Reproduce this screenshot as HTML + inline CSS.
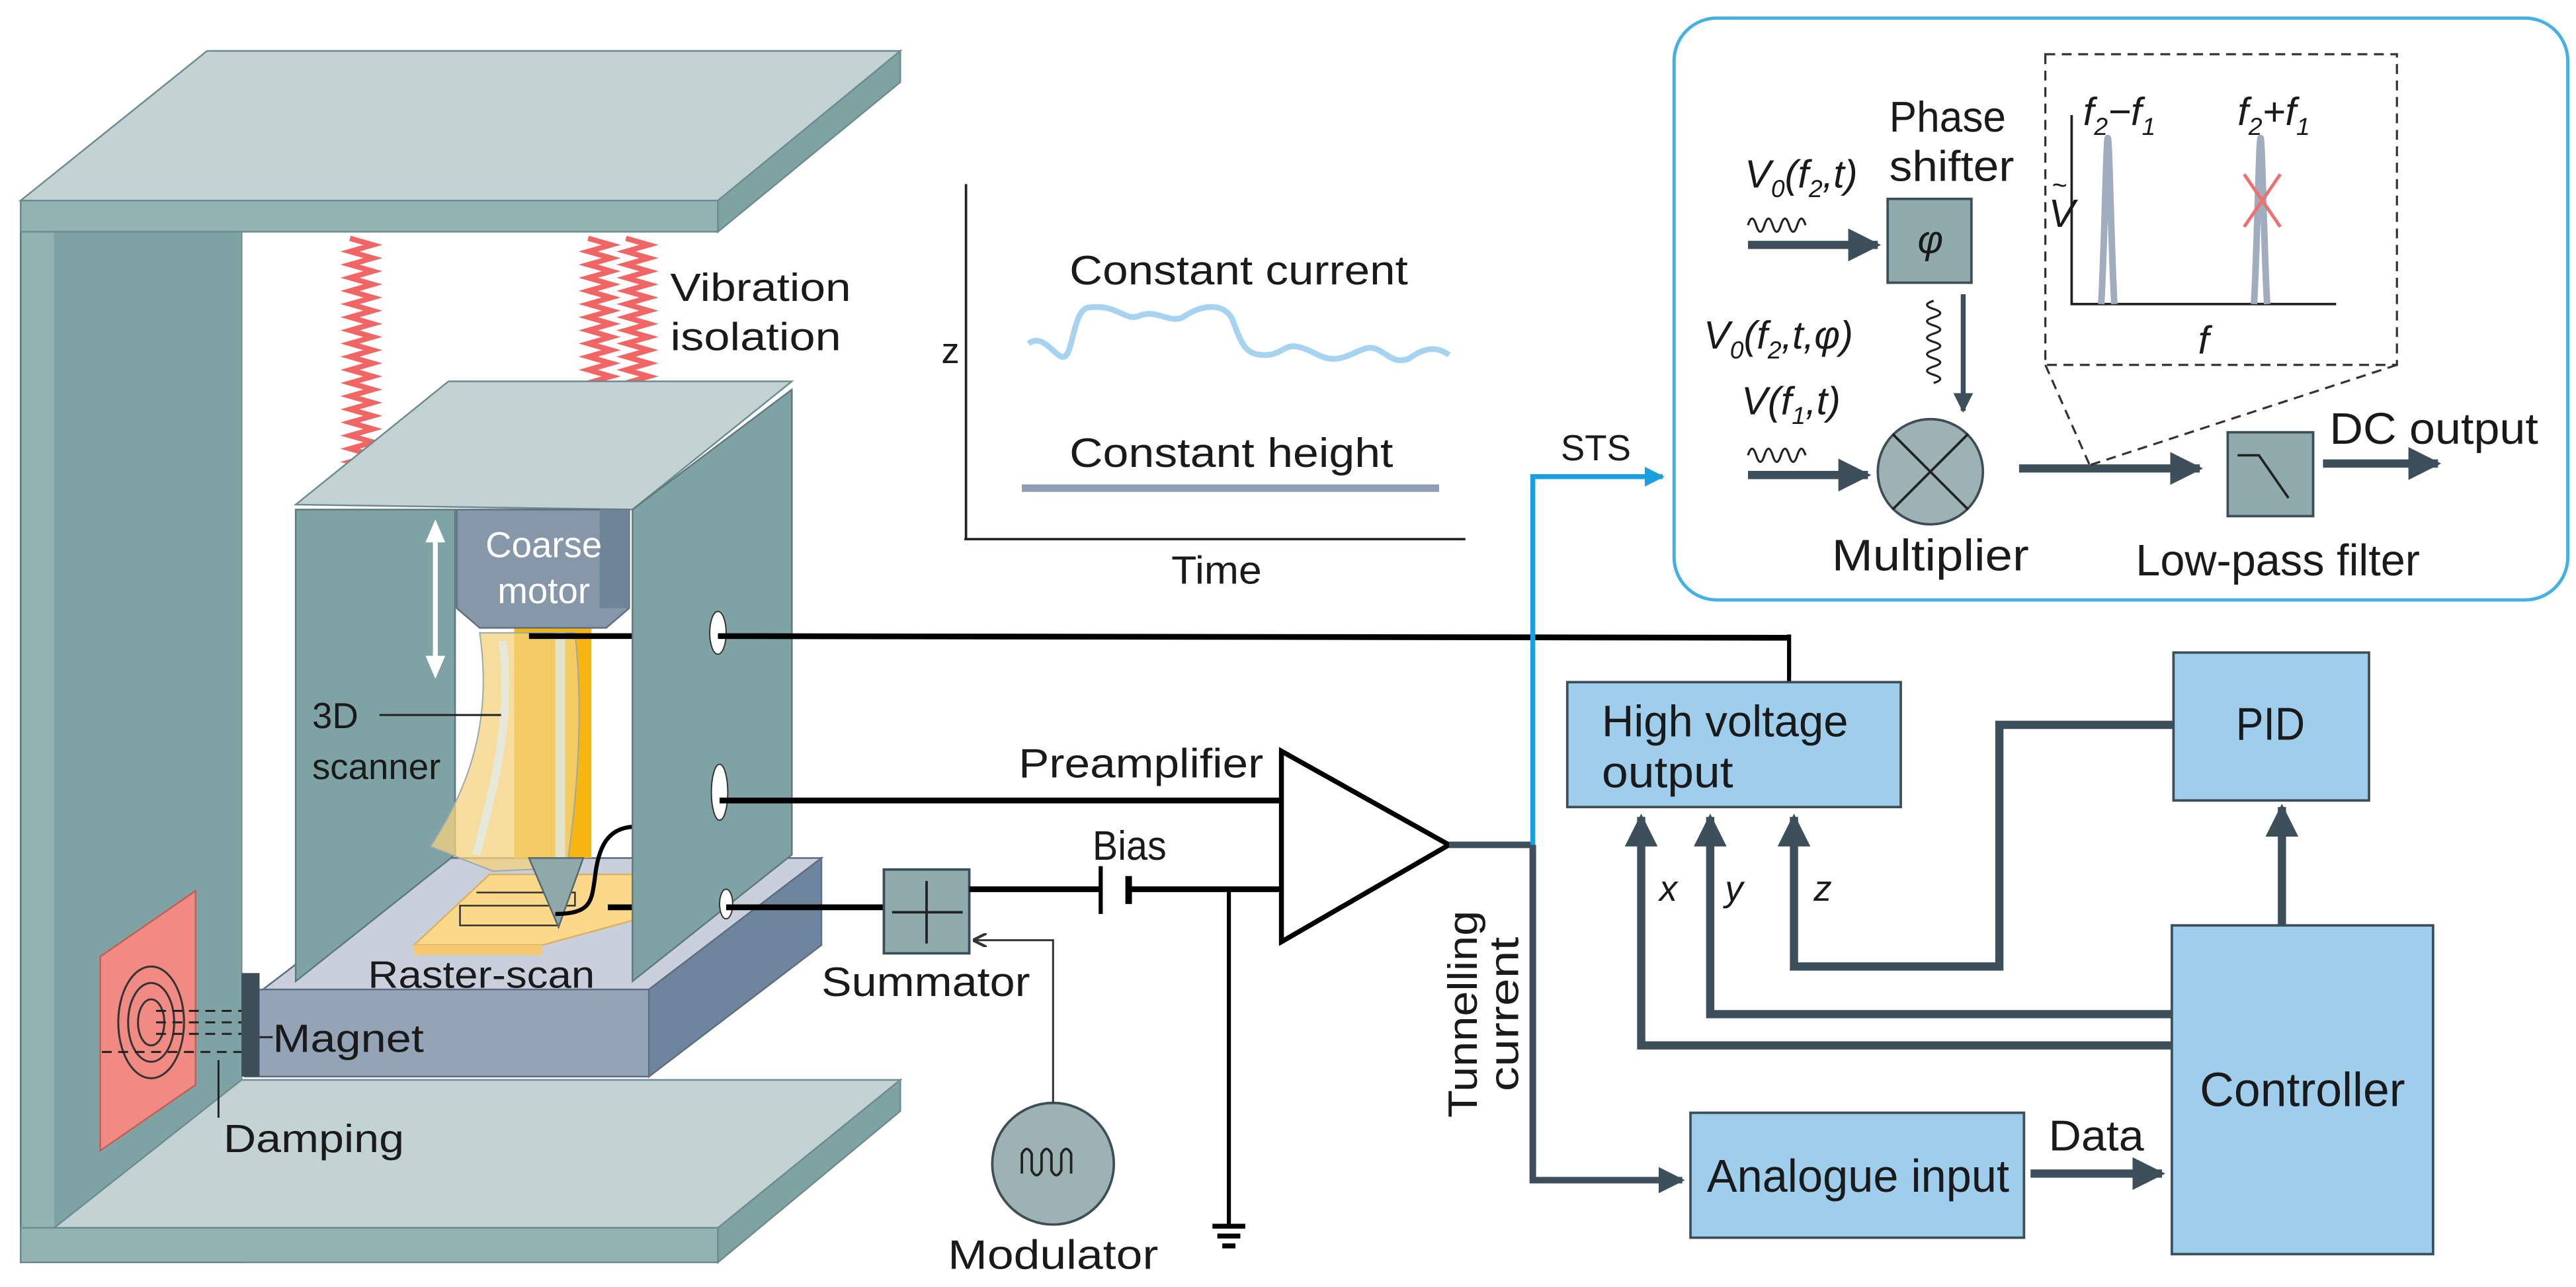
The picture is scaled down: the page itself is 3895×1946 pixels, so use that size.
<!DOCTYPE html>
<html><head><meta charset="utf-8"><style>
html,body{margin:0;padding:0;background:#fff;}
svg{display:block;}
text{font-family:"Liberation Sans",sans-serif;fill:#1a1a1a;}
</style></head><body>
<svg width="3895" height="1946" viewBox="0 0 1568 783" preserveAspectRatio="none" xmlns="http://www.w3.org/2000/svg">
<defs>
<marker id="ad" viewBox="0 0 10 10" refX="9" refY="5" markerWidth="4" markerHeight="4" orient="auto"><path d="M0,0 L10,5 L0,10 z" fill="#3d4f5a"/></marker>
<marker id="ab" viewBox="0 0 10 10" refX="9" refY="5" markerWidth="4" markerHeight="4" orient="auto"><path d="M0,0 L10,5 L0,10 z" fill="#1aa0e0"/></marker>
<marker id="ak" viewBox="0 0 10 10" refX="9" refY="5" markerWidth="7" markerHeight="7" orient="auto"><path d="M0,0 L10,5 L0,10" fill="none" stroke="#333" stroke-width="2"/></marker>
</defs>

<rect x="12.6" y="122" width="134.4" height="646" fill="#93b2b2" stroke="#5e7a7c" stroke-width="1"/>
<rect x="33" y="141" width="114" height="606" fill="#7fa3a4"/>
<polygon points="12.6,122 126,31 548,31 437,122" fill="#c3d3d3" stroke="#6e8c8e" stroke-width="1"/>
<rect x="12.6" y="122" width="424.4" height="19" fill="#93b2b2" stroke="#6e8c8e" stroke-width="1"/>
<polygon points="437,122 548,31 548,50 437,141" fill="#7fa2a3" stroke="#6e8c8e" stroke-width="1"/>
<polygon points="147,657 548,657 437,747 33,747" fill="#c3d3d3" stroke="#6e8c8e" stroke-width="1"/>
<rect x="12.6" y="747" width="424.4" height="21" fill="#93b2b2" stroke="#6e8c8e" stroke-width="1"/>
<polygon points="437,747 548,657 548,676 437,768" fill="#7fa2a3" stroke="#6e8c8e" stroke-width="1"/>

<g fill="none" stroke="#f26565" stroke-width="3.2">
<path d="M213,145 l14,4l-14,4l14,4l-14,4l14,4l-14,4l14,4l-14,4l14,4l-14,4l14,4l-14,4l14,4l-14,4l14,4l-14,4l14,4l-14,4l14,4l-14,4l14,4l-14,4l14,4l-14,4l14,4l-14,4l14,4l-14,4l14,4l-14,4l14,4l-14,4l14,4l-14,4l14,4l-14,4"/>
<path d="M358,145 l14,4l-14,4l14,4l-14,4l14,4l-14,4l14,4l-14,4l14,4l-14,4l14,4l-14,4l14,4l-14,4l14,4l-14,4l14,4l-14,4l14,4l-14,4l14,4l-14,4l14,4l-14,4l14,4l-14,4l14,4l-14,4"/>
<path d="M381,145 l14,4l-14,4l14,4l-14,4l14,4l-14,4l14,4l-14,4l14,4l-14,4l14,4l-14,4l14,4l-14,4l14,4l-14,4l14,4l-14,4l14,4l-14,4l14,4l-14,4l14,4l-14,4l14,4l-14,4l14,4l-14,4l14,4l-14,4l14,4l-14,4l14,4l-14,4l14,4l-14,4"/>
</g>
<text x="408" y="183" font-size="24" textLength="110" lengthAdjust="spacingAndGlyphs">Vibration</text>
<text x="408" y="213" font-size="24" textLength="104" lengthAdjust="spacingAndGlyphs">isolation</text>

<polygon points="160,602 395,602 500,522 265,522" fill="#c9cfdb" stroke="#5e6e80" stroke-width="1"/>
<rect x="149" y="602" width="246" height="53" fill="#94a3b5" stroke="#5e6e80" stroke-width="1"/>
<polygon points="395,602 500,522 500,575 395,655" fill="#6e869d" stroke="#5e6e80" stroke-width="1"/>
<rect x="147" y="592" width="11" height="63" fill="#3e4e58"/>

<polygon points="180,307 273,232 482,232 385,310" fill="#c3d3d3" stroke="#6e8c8e" stroke-width="1"/>
<polygon points="180,310 277,310 277,520 180,597" fill="#7fa3a4" stroke="#5e7a7c" stroke-width="1"/>

<polygon points="252,575 298,532 385,532 385,560 330,575" fill="#fbd88a" stroke="#d9b260" stroke-width="1"/>
<polygon points="252,575 330,575 330,581 252,581" fill="#f6c871"/>
<path d="M290,543 h60 v8 h-70 v12 h60" fill="none" stroke="#333" stroke-width="1"/>

<rect x="313" y="382" width="47" height="140" fill="#f7b512"/>
<path d="M292,385 C300,440 285,480 262,515 L300,530 L345,528 C352,480 355,430 350,385 Z" fill="#f3d27e" fill-opacity="0.75" stroke="#9aa" stroke-width="0.8"/>
<path d="M306,390 C312,440 300,480 290,520" stroke="#e2ebe8" stroke-width="5" fill="none" opacity="0.8"/>
<rect x="338" y="385" width="6" height="137" fill="#dfe8e6" opacity="0.8"/>
<polygon points="322,522 355,522 340,564" fill="#8fa9aa" stroke="#55696b" stroke-width="1"/>
<path d="M278,310 h105 v60 l-14,12 h-77 l-14,-12 z" fill="#8597a8" stroke="#5f6f80" stroke-width="1"/>
<rect x="365" y="310" width="18" height="60" fill="#6f8498"/>
<text x="331" y="339" font-size="22" text-anchor="middle" style="fill:#fff">Coarse</text>
<text x="331" y="367" font-size="22" text-anchor="middle" style="fill:#fff">motor</text>
<line x1="265" y1="326" x2="265" y2="403" stroke="#fff" stroke-width="3"/>
<polygon points="265,316 259,330 271,330" fill="#fff"/>
<polygon points="265,413 259,399 271,399" fill="#fff"/>
<text x="190" y="443" font-size="22">3D</text>
<text x="190" y="474" font-size="22">scanner</text>
<line x1="231" y1="435" x2="305" y2="435" stroke="#222" stroke-width="1.2"/>

<line x1="322" y1="387" x2="385" y2="387" stroke="#000" stroke-width="3.5"/>
<path d="M338,556 C360,556 360,548 362,535 C364,515 370,504 385,503" fill="none" stroke="#000" stroke-width="2.5"/>
<line x1="370" y1="552" x2="386" y2="552" stroke="#000" stroke-width="3.5"/>

<polygon points="385,310 482,237 482,520 385,597" fill="#7fa3a4" stroke="#5e7a7c" stroke-width="1"/>
<ellipse cx="437" cy="385" rx="5" ry="13" fill="#fff" stroke="#333" stroke-width="0.8"/>
<ellipse cx="438" cy="482" rx="5" ry="17" fill="#fff" stroke="#333" stroke-width="0.8"/>
<ellipse cx="442" cy="550" rx="4" ry="9" fill="#fff" stroke="#333" stroke-width="0.8"/>
<text x="224" y="601" font-size="23" textLength="138" lengthAdjust="spacingAndGlyphs">Raster-scan</text>

<polygon points="61,582 119,542 119,660 61,700" fill="#f08a83" stroke="#c0605a" stroke-width="1"/>
<g fill="none" stroke="#333" stroke-width="1.2">
<ellipse cx="92" cy="622" rx="8" ry="14"/>
<ellipse cx="92" cy="622" rx="14" ry="24"/>
<ellipse cx="92" cy="622" rx="20" ry="34"/>
</g>
<g stroke="#222" stroke-width="1.2" stroke-dasharray="6,4">
<line x1="95" y1="615" x2="147" y2="615"/>
<line x1="95" y1="622" x2="147" y2="622"/>
<line x1="95" y1="629" x2="147" y2="629"/>
<line x1="62" y1="640" x2="147" y2="640"/>
</g>
<line x1="133" y1="645" x2="133" y2="680" stroke="#222" stroke-width="1.2"/>
<line x1="158" y1="631" x2="166" y2="631" stroke="#222" stroke-width="1.2"/>
<text x="166" y="640" font-size="24" textLength="92" lengthAdjust="spacingAndGlyphs">Magnet</text>
<text x="136" y="701" font-size="24" textLength="110" lengthAdjust="spacingAndGlyphs">Damping</text>

<line x1="588" y1="112" x2="588" y2="328" stroke="#222" stroke-width="1.5"/>
<line x1="587" y1="328" x2="892" y2="328" stroke="#222" stroke-width="1.5"/>
<text x="573" y="221" font-size="22">z</text>
<text x="713" y="355" font-size="24" textLength="55" lengthAdjust="spacingAndGlyphs">Time</text>
<text x="651" y="173" font-size="25" textLength="206" lengthAdjust="spacingAndGlyphs">Constant current</text>
<text x="651" y="284" font-size="25" textLength="197" lengthAdjust="spacingAndGlyphs">Constant height</text>
<path d="M626,209 C634,203 640,214 646,217 C654,220 652,186 664,187 C680,185 685,196 694,192 C704,188 712,197 720,193 C730,186 744,183 750,194 C756,210 758,216 770,216 C780,216 782,209 790,211 C800,213 805,220 815,218 C825,216 830,210 837,212 C845,215 848,222 858,218 C866,212 874,210 882,216" fill="none" stroke="#a5d3f0" stroke-width="3.5"/>
<line x1="622" y1="297" x2="876" y2="297" stroke="#8d9db3" stroke-width="4.5"/>

<line x1="437" y1="387" x2="1089" y2="388" stroke="#000" stroke-width="3.5"/>
<line x1="1089" y1="386" x2="1089" y2="415" stroke="#000" stroke-width="2.5"/>
<line x1="438" y1="487" x2="780" y2="487" stroke="#000" stroke-width="3.5"/>
<line x1="442" y1="552" x2="538" y2="552" stroke="#000" stroke-width="3.5"/>
<text x="620" y="473" font-size="25" textLength="149" lengthAdjust="spacingAndGlyphs">Preamplifier</text>

<rect x="538" y="529" width="52" height="51" fill="#8fabab" stroke="#3e4e58" stroke-width="1.5"/>
<line x1="564" y1="536" x2="564" y2="574" stroke="#222" stroke-width="1.5"/>
<line x1="543" y1="555" x2="586" y2="555" stroke="#222" stroke-width="1.5"/>
<text x="500" y="606" font-size="25" textLength="127" lengthAdjust="spacingAndGlyphs">Summator</text>
<line x1="590" y1="541" x2="670" y2="541" stroke="#000" stroke-width="3.5"/>
<line x1="670" y1="527" x2="670" y2="556" stroke="#000" stroke-width="2.5"/>
<line x1="687" y1="533" x2="687" y2="550" stroke="#000" stroke-width="4"/>
<line x1="687" y1="541" x2="780" y2="541" stroke="#000" stroke-width="3.5"/>
<text x="665" y="523" font-size="25" textLength="45" lengthAdjust="spacingAndGlyphs">Bias</text>
<line x1="748" y1="541" x2="748" y2="746" stroke="#000" stroke-width="2.5"/>
<line x1="738" y1="746" x2="758" y2="746" stroke="#000" stroke-width="3"/>
<line x1="741" y1="752" x2="755" y2="752" stroke="#000" stroke-width="3"/>
<line x1="744" y1="758" x2="752" y2="758" stroke="#000" stroke-width="3"/>
<circle cx="641" cy="708" r="37" fill="#9db3b3" stroke="#3e4e58" stroke-width="1.5"/>
<path d="M622,714 v-12 q3,-6 6,0 v10 q3,6 6,0 v-10 q3,-6 6,0 v10 q3,6 6,0 v-10 q3,-6 6,0 v12" fill="none" stroke="#222" stroke-width="1.5"/>
<polyline points="641,671 641,572 593,572" fill="none" stroke="#333" stroke-width="1.2" marker-end="url(#ak)"/>
<text x="577" y="772" font-size="25" textLength="128" lengthAdjust="spacingAndGlyphs">Modulator</text>
<polygon points="780,457 780,573 882,514" fill="#fff" stroke="#000" stroke-width="3"/>

<line x1="882" y1="514" x2="933" y2="514" stroke="#3d4f5a" stroke-width="4"/>
<polyline points="933,514 933,718 1024,718" fill="none" stroke="#3d4f5a" stroke-width="4" marker-end="url(#ad)"/>
<polyline points="933,514 933,290 1012,290" fill="none" stroke="#1aa0e0" stroke-width="3" marker-end="url(#ab)"/>
<text x="950" y="280" font-size="22">STS</text>
<text transform="translate(899,617) rotate(-90)" font-size="25" text-anchor="middle" textLength="126" lengthAdjust="spacingAndGlyphs">Tunnelling</text>
<text transform="translate(924,617) rotate(-90)" font-size="25" text-anchor="middle" textLength="94" lengthAdjust="spacingAndGlyphs">current</text>

<rect x="954" y="415" width="203" height="76" fill="#9fcdec" stroke="#3e4e58" stroke-width="1.5"/>
<text x="975" y="448" font-size="27" textLength="150" lengthAdjust="spacingAndGlyphs">High voltage</text>
<text x="975" y="479" font-size="27" textLength="80" lengthAdjust="spacingAndGlyphs">output</text>
<rect x="1323" y="397" width="119" height="90" fill="#9fcdec" stroke="#3e4e58" stroke-width="1.5"/>
<text x="1361" y="450" font-size="28" textLength="42" lengthAdjust="spacingAndGlyphs">PID</text>
<rect x="1322" y="563" width="159" height="200" fill="#9fcdec" stroke="#3e4e58" stroke-width="1.5"/>
<text x="1339" y="673" font-size="29" textLength="125" lengthAdjust="spacingAndGlyphs">Controller</text>
<rect x="1029" y="677" width="203" height="76" fill="#9fcdec" stroke="#3e4e58" stroke-width="1.5"/>
<text x="1039" y="725" font-size="28" textLength="184" lengthAdjust="spacingAndGlyphs">Analogue input</text>
<line x1="1236" y1="714" x2="1316" y2="714" stroke="#3d4f5a" stroke-width="5" marker-end="url(#ad)"/>
<text x="1247" y="700" font-size="26" textLength="58" lengthAdjust="spacingAndGlyphs">Data</text>

<g fill="none" stroke="#3d4f5a" stroke-width="5">
<polyline points="1322,636 999,636 999,497" marker-end="url(#ad)"/>
<polyline points="1322,617 1041,617 1041,497" marker-end="url(#ad)"/>
<polyline points="1323,441 1217,441 1217,588 1092,588 1092,497" marker-end="url(#ad)"/>
<line x1="1389" y1="563" x2="1389" y2="491" marker-end="url(#ad)"/>
</g>
<text x="1010" y="548" font-size="22" font-style="italic">x</text>
<text x="1050" y="548" font-size="22" font-style="italic">y</text>
<text x="1104" y="548" font-size="22" font-style="italic">z</text>

<rect x="1019" y="11" width="544" height="354" rx="26" fill="none" stroke="#44b0e4" stroke-width="2"/>
<text x="1150" y="80" font-size="26" textLength="71" lengthAdjust="spacingAndGlyphs">Phase</text>
<text x="1150" y="110" font-size="26" textLength="76" lengthAdjust="spacingAndGlyphs">shifter</text>
<rect x="1149" y="121" width="51" height="51" fill="#8fabab" stroke="#3e4e58" stroke-width="1.5"/>
<text x="1175" y="154" font-size="24" font-style="italic" text-anchor="middle" font-family="Liberation Serif">φ</text>
<text x="1062" y="114" font-size="24" font-style="italic">V<tspan font-size="15" dy="6">0</tspan><tspan dy="-6">(f</tspan><tspan font-size="15" dy="6">2</tspan><tspan dy="-6">,t)</tspan></text>
<path d="M1064,137 q2.5,-8 5,0 q2.5,8 5,0 q2.5,-8 5,0 q2.5,8 5,0 q2.5,-8 5,0 q2.5,8 5,0 q2.5,-8 5,0" fill="none" stroke="#222" stroke-width="1.3"/>
<line x1="1064" y1="149" x2="1143" y2="149" stroke="#3d4f5a" stroke-width="5" marker-end="url(#ad)"/>
<path d="M1177,183 q-8,2.5 0,5 q8,2.5 0,5 q-8,2.5 0,5 q8,2.5 0,5 q-8,2.5 0,5 q8,2.5 0,5 q-8,2.5 0,5 q8,2.5 0,5 q-8,2.5 0,5 q8,2.5 0,5" fill="none" stroke="#222" stroke-width="1.3"/>
<line x1="1195" y1="179" x2="1195" y2="250" stroke="#3d4f5a" stroke-width="3" marker-end="url(#ad)"/>
<text x="1037" y="212" font-size="24" font-style="italic">V<tspan font-size="15" dy="6">0</tspan><tspan dy="-6">(f</tspan><tspan font-size="15" dy="6">2</tspan><tspan dy="-6">,t,φ)</tspan></text>
<text x="1060" y="252" font-size="24" font-style="italic">V(f<tspan font-size="15" dy="6">1</tspan><tspan dy="-6">,t)</tspan></text>
<path d="M1064,277 q2.5,-8 5,0 q2.5,8 5,0 q2.5,-8 5,0 q2.5,8 5,0 q2.5,-8 5,0 q2.5,8 5,0 q2.5,-8 5,0" fill="none" stroke="#222" stroke-width="1.3"/>
<line x1="1064" y1="289" x2="1137" y2="289" stroke="#3d4f5a" stroke-width="5" marker-end="url(#ad)"/>
<ellipse cx="1175" cy="287" rx="32" ry="32" fill="#9db3b3" stroke="#3e4e58" stroke-width="1.5"/>
<line x1="1152" y1="264" x2="1198" y2="310" stroke="#222" stroke-width="1.5"/>
<line x1="1198" y1="264" x2="1152" y2="310" stroke="#222" stroke-width="1.5"/>
<text x="1115" y="347" font-size="27" textLength="120" lengthAdjust="spacingAndGlyphs">Multiplier</text>
<line x1="1229" y1="285" x2="1339" y2="285" stroke="#3d4f5a" stroke-width="5" marker-end="url(#ad)"/>
<rect x="1356" y="263" width="52" height="51" fill="#8fabab" stroke="#3e4e58" stroke-width="1.5"/>
<polyline points="1362,277 1375,277 1393,303" fill="none" stroke="#222" stroke-width="1.5"/>
<line x1="1414" y1="282" x2="1484" y2="282" stroke="#3d4f5a" stroke-width="5" marker-end="url(#ad)"/>
<text x="1418" y="270" font-size="27" textLength="127" lengthAdjust="spacingAndGlyphs">DC output</text>
<text x="1300" y="350" font-size="27" textLength="173" lengthAdjust="spacingAndGlyphs">Low-pass filter</text>
<rect x="1245" y="33" width="214" height="189" fill="none" stroke="#333" stroke-width="1.3" stroke-dasharray="6,4"/>
<line x1="1245" y1="222" x2="1272" y2="283" stroke="#333" stroke-width="1.3" stroke-dasharray="6,4"/>
<line x1="1459" y1="222" x2="1272" y2="283" stroke="#333" stroke-width="1.3" stroke-dasharray="6,4"/>
<polyline points="1261,70 1261,185 1422,185" fill="none" stroke="#222" stroke-width="1.5"/>
<path d="M1279,185 C1281,150 1282,84 1283,84 C1284,84 1285,150 1287,185" fill="none" stroke="#9fadbe" stroke-width="4"/>
<path d="M1372,185 C1374,150 1375,84 1376,84 C1377,84 1378,150 1380,185" fill="none" stroke="#9fadbe" stroke-width="4"/>
<line x1="1366" y1="106" x2="1388" y2="138" stroke="#f07070" stroke-width="2"/>
<line x1="1388" y1="106" x2="1366" y2="138" stroke="#f07070" stroke-width="2"/>
<text x="1268" y="76" font-size="24" font-style="italic">f<tspan font-size="15" dy="6">2</tspan><tspan dy="-6">−f</tspan><tspan font-size="15" dy="6">1</tspan></text>
<text x="1362" y="76" font-size="24" font-style="italic">f<tspan font-size="15" dy="6">2</tspan><tspan dy="-6">+f</tspan><tspan font-size="15" dy="6">1</tspan></text>
<text x="1247" y="138" font-size="24" font-style="italic">V</text>
<text x="1249" y="118" font-size="16">~</text>
<text x="1338" y="215" font-size="24" font-style="italic">f</text>
</svg>
</body></html>
